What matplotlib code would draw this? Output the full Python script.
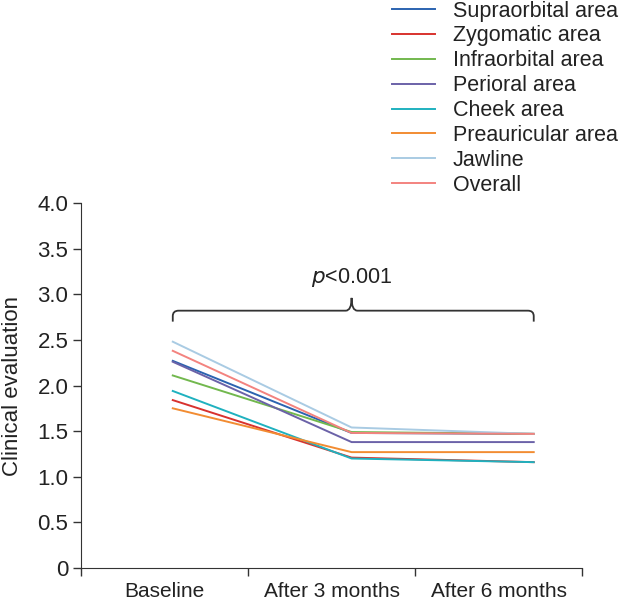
import matplotlib
matplotlib.use("Agg")
import matplotlib.pyplot as plt
from matplotlib.path import Path
from matplotlib.patches import PathPatch

plt.rcParams['font.family'] = ['Liberation Sans', 'DejaVu Sans']

timepoints = ["Baseline", "After 3 months", "After 6 months"]
x_pos = [0.55, 1.62, 2.71]
series_names = ["Supraorbital area", "Zygomatic area", "Infraorbital area", "Perioral area",
                "Cheek area", "Preauricular area", "Jawline", "Overall"]
supraorbital = [2.27, 1.48, 1.47]
zygomatic = [1.84, 1.21, 1.16]
infraorbital = [2.11, 1.49, 1.47]
perioral = [2.26, 1.38, 1.38]
cheek = [1.94, 1.20, 1.16]
preauricular = [1.75, 1.27, 1.27]
jawline = [2.48, 1.54, 1.47]
overall = [2.38, 1.48, 1.47]
series_values = [supraorbital, zygomatic, infraorbital, perioral, cheek, preauricular, jawline, overall]
colors = ["#2b63b0", "#d8322e", "#72b84e", "#6b62a8", "#1fb1bf", "#f28c32", "#a9cbe3", "#f3837f"]
y_ticks = [0, 0.5, 1.0, 1.5, 2.0, 2.5, 3.0, 3.5, 4.0]
y_ticklabels = ["0", "0.5", "1.0", "1.5", "2.0", "2.5", "3.0", "3.5", "4.0"]

fig = plt.figure(figsize=(6.22, 6.0), dpi=100)
ax = fig.add_axes([0.130, 0.0533, 0.806, 0.6084])

for name, vals, c in zip(series_names, series_values, colors):
    ax.plot(x_pos, vals, color=c, lw=1.4, label=name)

ax.set_xlim(0, 3)
ax.set_ylim(0, 4)
ax.set_yticks(y_ticks)
ax.set_yticklabels(y_ticklabels, fontsize=16, color="#222222")
ax.set_xticks([0, 1, 2, 3])
ax.set_xticklabels([])
ax.set_xticks([0.5, 1.5, 2.5], minor=True)
ax.set_xticklabels(timepoints, minor=True, fontsize=15, color="#222222")
ax.tick_params(axis='x', which='minor', length=0, pad=10)
ax.tick_params(axis='both', which='major', direction='out', length=6, width=1, color="#333333", pad=3)
ax.set_ylabel("Clinical evaluation", fontsize=16, color="#222222", labelpad=10)
for s in ['top', 'right']:
    ax.spines[s].set_visible(False)
for s in ['left', 'bottom']:
    ax.spines[s].set_color("#333333")

# brace
x0, x1 = x_pos[0], x_pos[-1]
xc = x_pos[1]
yb, yh, yt = 2.70, 2.82, 2.96
rx, ry = 0.035, 0.06
verts = [
    (x0, yb), (x0, yh - ry), (x0, yh), (x0 + rx, yh),
    (xc - rx, yh), (xc, yh), (xc, yt),
    (xc, yh), (xc + rx, yh),
    (x1 - rx, yh), (x1, yh), (x1, yh - ry), (x1, yb),
]
codes = [Path.MOVETO, Path.LINETO, Path.CURVE3, Path.CURVE3,
         Path.LINETO, Path.CURVE3, Path.CURVE3,
         Path.CURVE3, Path.CURVE3,
         Path.LINETO, Path.CURVE3, Path.CURVE3, Path.LINETO]
ax.add_patch(PathPatch(Path(verts, codes), fill=False, lw=1.3, edgecolor="#333333", clip_on=False))
ax.text(xc, 3.18, r"$p$<0.001", ha='center', va='center', fontsize=15.5, color="#222222",
        math_fontfamily='dejavusans')

ax.legend(loc='upper left', bbox_to_anchor=(0.630, 0.999), bbox_transform=fig.transFigure,
          frameon=False, fontsize=15.5, handlelength=2.0, handletextpad=0.83, labelspacing=0.18,
          borderaxespad=0, borderpad=0, labelcolor="#222222")

fig.savefig("out.png", dpi=100)
